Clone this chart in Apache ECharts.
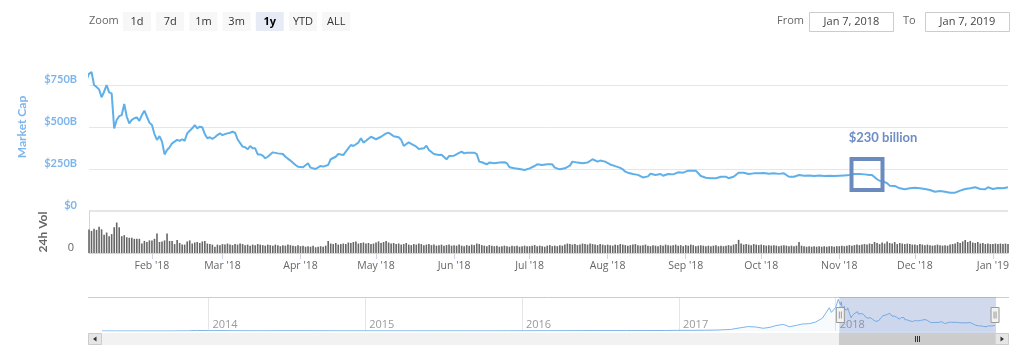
<!DOCTYPE html>
<html>
<head>
<meta charset="utf-8">
<title>Total Market Capitalization</title>
<script src="https://cdn.jsdelivr.net/npm/echarts@6/dist/echarts.min.js"></script>
<style>
  html, body { margin: 0; padding: 0; background: #fff; }
  #chart { width: 1024px; height: 354px; }
</style>
</head>
<body>
<div id="chart"></div>
<script>
// market cap before the selected year (only seen in the navigator), $B
const historyDates = ['2013-04-28', '2013-06-01', '2013-08-01', '2013-10-01', '2013-11-15', '2013-12-04',
  '2014-01-01', '2014-02-01', '2014-03-01', '2014-05-01', '2014-07-01', '2014-09-01', '2014-11-01',
  '2015-01-01', '2015-04-01', '2015-07-01', '2015-10-01', '2015-12-01', '2016-03-01', '2016-06-15',
  '2016-09-01', '2016-12-01', '2017-01-01', '2017-02-01', '2017-03-01', '2017-04-01', '2017-05-01',
  '2017-05-25', '2017-06-12', '2017-07-01', '2017-07-16', '2017-08-01', '2017-08-15', '2017-09-01',
  '2017-09-15', '2017-10-01', '2017-10-15', '2017-11-01', '2017-11-15', '2017-12-01', '2017-12-17',
  '2017-12-22', '2018-01-01']
const historyValues = [1.6, 1.4, 1.3, 1.6, 5, 15, 10, 11, 7, 6, 8, 7, 5, 4.5, 4, 4.5, 4, 6, 7, 11,
  11, 13, 18, 17, 20, 25, 40, 85, 115, 100, 70, 95, 140, 170, 110, 145, 180, 190, 230, 330, 600,
  480, 612]

// selected year: day offset from Jan 7 2018 and market cap, $B
const capStart = [2018, 0, 7]
const capDays = [0, 1, 2, 3, 4, 5, 6, 7, 8, 9, 10, 11, 12, 13, 14, 15, 16, 17, 18, 19, 20, 21, 22, 23, 24,
  25, 26, 27, 28, 29, 30, 31, 32, 33, 35, 36, 37, 38, 39, 40, 41, 42, 43, 44, 45, 46, 47, 48, 49, 50,
  51, 52, 53, 54, 55, 56, 57, 58, 59, 61, 62, 63, 64, 65, 66, 67, 68, 69, 70, 71, 73, 75, 77, 78, 80,
  82, 83, 85, 87, 88, 90, 92, 93, 95, 96, 98, 99, 101, 102, 104, 105, 107, 108, 109, 110, 112, 114,
  116, 118, 119, 120, 121, 123, 124, 125, 127, 128, 130, 131, 133, 134, 135, 137, 139, 140, 142, 143,
  145, 147, 148, 149, 150, 153, 154, 155, 156, 158, 159, 161, 163, 165, 166, 167, 169, 171, 173, 175,
  177, 178, 180, 182, 184, 185, 187, 189, 191, 192, 194, 196, 198, 200, 202, 203, 205, 207, 209, 211,
  212, 213, 214, 216, 218, 220, 222, 223, 225, 227, 228, 230, 232, 234, 236, 238, 241, 243, 245, 247,
  249, 251, 253, 254, 256, 258, 260, 262, 264, 266, 268, 270, 272, 274, 276, 278, 280, 282, 284, 286,
  288, 290, 292, 294, 296, 298, 300, 302, 304, 306, 308, 310, 311, 313, 314, 315, 317, 318, 320, 322,
  324, 326, 328, 330, 332, 334, 336, 338, 340, 342, 344, 346, 348, 350, 352, 354, 356, 357, 359, 361,
  363, 365]
const capValues = [816, 827, 750, 738, 724, 677, 710, 750, 706, 700, 492, 542, 565, 571, 637, 561, 522,
  542, 552, 557, 536, 571, 597, 561, 526, 512, 458, 423, 446, 413, 337, 363, 379, 403, 423, 417, 427,
  418, 462, 478, 492, 512, 492, 502, 498, 458, 433, 439, 429, 439, 452, 462, 452, 458, 462, 466, 472,
  466, 427, 383, 379, 367, 387, 373, 373, 337, 337, 330, 314, 323, 349, 343, 339, 323, 300, 274, 264,
  260, 284, 258, 250, 268, 264, 274, 308, 323, 339, 333, 353, 393, 387, 407, 433, 407, 418, 442, 427,
  442, 462, 466, 456, 445, 439, 423, 387, 409, 400, 383, 369, 373, 389, 363, 339, 333, 335, 308, 327,
  329, 346, 353, 343, 347, 347, 339, 294, 290, 278, 288, 284, 288, 290, 284, 260, 254, 250, 244, 254,
  268, 278, 274, 278, 278, 258, 248, 254, 270, 294, 288, 284, 288, 308, 294, 300, 294, 277, 267, 257,
  248, 234, 228, 220, 215, 200, 206, 222, 214, 220, 210, 220, 218, 230, 228, 240, 240, 208, 198, 195,
  195, 204, 204, 195, 204, 228, 228, 220, 224, 224, 226, 222, 225, 221, 224, 204, 204, 214, 210, 212,
  209, 211, 208, 210, 208, 210, 212, 214, 220, 220, 218, 214, 214, 189, 180, 179, 165, 151, 149, 135,
  129, 135, 139, 135, 131, 125, 115, 119, 115, 109, 109, 121, 131, 135, 141, 131, 129, 141, 131, 137,
  135, 141]

// 24h volume, one bar a day from Jan 7 2018, $B
const volumeValues = [
  45, 42, 46, 44, 50, 45, 35, 39, 32, 36, 49, 58, 49, 32, 34, 30, 29, 29, 27, 27, 27, 18, 23, 21, 24,
  24, 27, 37, 21, 22, 24, 37, 23, 23, 17, 25, 19, 16, 16, 22, 24, 18, 20, 21, 19, 22, 23, 18, 17, 16,
  12, 16,
  15, 17, 16, 18, 16, 15, 17, 16, 18, 17, 15, 16, 14, 16, 15, 17, 16, 15, 14, 16, 15, 14, 16, 15, 13,
  15, 14, 16, 15, 14, 13, 15,
  13, 14, 12, 13, 12, 14, 11, 12, 13, 12, 14, 23, 18, 17, 19, 16, 17, 18, 17, 20, 19, 21, 22, 18, 19,
  20, 18, 19, 17, 18,
  20, 22, 19, 21, 23, 20, 18, 19, 17, 18, 16, 17, 19, 16, 15, 17, 16, 18, 17, 15, 16, 17, 15, 16, 14,
  15, 16, 14, 15, 16, 14,
  15, 14, 16, 14, 13, 15, 14, 16, 15, 18, 17, 15, 14, 13, 15, 14, 13, 14, 12, 13, 14, 13, 12, 14, 13,
  14, 12, 13, 14, 13,
  13, 14, 15, 13, 14, 13, 12, 14, 15, 13, 14, 13, 15, 14, 16, 18, 17, 16, 17, 15, 16, 18, 17, 16, 18,
  17, 16, 15, 17, 16, 15,
  16, 15, 14, 16, 15, 17, 16, 15, 14, 15, 16, 17, 15, 14, 15, 16, 14, 13, 15, 14, 13, 15, 14, 16, 15,
  14, 15, 16, 14, 15, 13,
  15, 14, 16, 15, 13, 14, 15, 14, 13, 14, 13, 14, 15, 13, 14, 13, 14, 15, 14, 16, 17, 25, 18, 16, 17,
  16, 15, 17, 16, 15,
  16, 15, 14, 15, 14, 15, 14, 13, 14, 15, 14, 13, 14, 13, 14, 21, 14, 13, 12, 13, 12, 13, 12, 13, 12,
  13, 12, 13, 13, 12, 13,
  13, 14, 13, 14, 15, 14, 15, 16, 15, 16, 17, 16, 18, 17, 21, 19, 17, 20, 18, 22, 19, 18, 21, 17, 19,
  18, 17, 18, 17, 16,
  16, 15, 17, 16, 15, 16, 15, 14, 15, 16, 15, 14, 15, 14, 16, 17, 18, 21, 19, 22, 25, 21, 23, 20, 19,
  21, 18, 19, 17, 18, 17,
  17, 18, 17, 18, 17, 18, 17]

const capTicks = [0, 250, 500, 750]
const capLabels = ['$0', '$250B', '$500B', '$750B']
const monthTicks = ['2018-02-01', '2018-03-01', '2018-04-01', '2018-05-01', '2018-06-01', '2018-07-01',
  '2018-08-01', '2018-09-01', '2018-10-01', '2018-11-01', '2018-12-01', '2019-01-01']
const monthLabels = ["Feb '18", "Mar '18", "Apr '18", "May '18", "Jun '18", "Jul '18", "Aug '18",
  "Sep '18", "Oct '18", "Nov '18", "Dec '18", "Jan '19"]
const yearTicks = ['2014-01-01', '2015-01-01', '2016-01-01', '2017-01-01', '2018-01-01']
const yearLabels = ['2014', '2015', '2016', '2017', '2018']
const zoomButtons = ['1d', '7d', '1m', '3m', '1y', 'YTD', 'ALL']
const zoomSelected = '1y'
const rangeDates = ['2018-01-07', '2019-01-07']
const rangeLabels = ['Jan 7, 2018', 'Jan 7, 2019']
const note = { day: 309, value: 218, text: '$230 billion' }

const ts = s => { const p = s.split('-').map(Number); return new Date(p[0], p[1] - 1, p[2]).getTime() }
const capDate = d => new Date(capStart[0], capStart[1], capStart[2] + d).getTime()

const capSeries = historyDates.map((s, i) => [ts(s), historyValues[i]])
  .concat(capDays.map((d, i) => [capDate(d), capValues[i]]))
const volSeries = volumeValues.map((v, i) => [capDate(i), v])
const monthStamps = monthTicks.map(ts)
const yearStamps = yearTicks.map(ts)

const textFont = '"Open Sans", sans-serif'
const boldFont = 'Lato, sans-serif'

const chart = echarts.init(document.getElementById('chart'))

const graphic = [
  { type: 'text', x: 89, y: 21, style: { text: 'Zoom', fill: '#666', font: '11px "Open Sans"', verticalAlign: 'middle' } },
  { type: 'text', x: 777, y: 21, style: { text: 'From', fill: '#666', font: '11px "Open Sans"', verticalAlign: 'middle' } },
  { type: 'text', x: 903, y: 21, style: { text: 'To', fill: '#666', font: '11px "Open Sans"', verticalAlign: 'middle' } },
  { type: 'line', shape: { x1: 88, y1: 297.5, x2: 1009, y2: 297.5 }, style: { stroke: '#cccccc', lineWidth: 1 } },
  { type: 'rect', shape: { x: 88, y: 333, width: 921, height: 12 }, style: { fill: '#f2f2f2' } },
  { type: 'rect', shape: { x: 88.5, y: 333.5, width: 13, height: 11 }, style: { fill: '#e6e6e6', stroke: '#cccccc' } },
  { type: 'polygon', shape: { points: [[93, 339], [96.5, 336.5], [96.5, 341.5]] }, style: { fill: '#333' } },
  { type: 'rect', shape: { x: 995.5, y: 333.5, width: 13, height: 11 }, style: { fill: '#e6e6e6', stroke: '#cccccc' } },
  { type: 'polygon', shape: { points: [[1004, 339], [1000.5, 336.5], [1000.5, 341.5]] }, style: { fill: '#333' } }
]
zoomButtons.forEach((b, i) => {
  const on = b === zoomSelected
  graphic.push({
    type: 'group', x: 123 + i * 33.2, y: 12,
    children: [
      { type: 'rect', shape: { width: 28, height: 19 }, style: { fill: on ? '#e6ebf5' : '#f7f7f7' } },
      { type: 'text', x: 14, y: 9.5, style: { text: b, align: 'center', verticalAlign: 'middle', fill: on ? '#000' : '#333', font: (on ? 'bold ' : '') + '11px "Open Sans"' } }
    ]
  })
})
rangeLabels.forEach((t, i) => {
  const x = i === 0 ? 809.5 : 925.5
  graphic.push({
    type: 'group', x: x, y: 12.5,
    children: [
      { type: 'rect', shape: { width: 84, height: 19 }, style: { fill: '#fff', stroke: '#cccccc' } },
      { type: 'text', x: 42, y: 9.5, style: { text: t, align: 'center', verticalAlign: 'middle', fill: '#444', font: '11px "Open Sans"' } }
    ]
  })
})

const zoomCommon = {
  type: 'slider', xAxisIndex: 0, filterMode: 'none',
  startValue: ts(rangeDates[0]), endValue: ts(rangeDates[1]),
  left: 102, right: 29, borderRadius: 0, borderColor: 'transparent',
  showDataShadow: false, showDetail: false, brushSelect: false, moveHandleSize: 0
}

chart.setOption({
  animation: false,
  graphic: graphic,
  grid: [
    { left: 89, right: 16, top: 43, height: 168, outerBoundsMode: 'none' },
    { left: 89, right: 16, top: 211, height: 42, outerBoundsMode: 'none' },
    { left: 102, right: 29, top: 298, height: 33, outerBoundsMode: 'none' }
  ],
  xAxis: [
    { type: 'value', gridIndex: 0, scale: true, min: 'dataMin', max: 'dataMax', show: false },
    {
      type: 'value', gridIndex: 1, scale: true, min: ts(rangeDates[0]), max: ts(rangeDates[1]),
      axisLine: { lineStyle: { color: '#ccd6eb' } },
      axisTick: { customValues: monthStamps, length: 6, lineStyle: { color: '#ccd6eb' } },
      axisLabel: {
        customValues: monthStamps, formatter: v => monthLabels[monthStamps.indexOf(v)] || '',
        color: '#666', fontSize: 10.5, fontFamily: textFont, margin: 8
      },
      splitLine: { show: false }
    },
    {
      type: 'value', gridIndex: 2, scale: true, min: 'dataMin', max: 'dataMax',
      axisLine: { show: false },
      axisTick: { show: false, customValues: yearStamps },
      axisLabel: {
        inside: true, customValues: yearStamps, formatter: v => yearLabels[yearStamps.indexOf(v)] || '',
        align: 'left', padding: [0, 0, 0, 4], margin: 1, color: '#999', fontSize: 11, fontFamily: textFont
      },
      splitLine: { show: true, lineStyle: { color: '#e6e6e6' } }
    }
  ],
  yAxis: [
    {
      type: 'value', gridIndex: 0, min: 0, max: 1000, interval: 250,
      axisLine: { show: false }, axisTick: { show: false },
      axisLabel: {
        formatter: v => capLabels[capTicks.indexOf(v)] || '', verticalAlign: 'bottom', margin: 12,
        color: '#7cb5ec', fontFamily: boldFont, fontWeight: 'bold', fontSize: 11
      },
      splitLine: { lineStyle: { color: ['#e6e6e6', '#e6e6e6', '#e6e6e6', '#e6e6e6', 'rgba(0,0,0,0)'] } },
      name: 'Market Cap', nameLocation: 'middle', nameGap: 61,
      nameTextStyle: { color: '#7cb5ec', fontFamily: boldFont, fontWeight: 'bold', fontSize: 12 }
    },
    {
      type: 'value', gridIndex: 1, min: 0, max: 80, interval: 80,
      axisLine: { show: true, lineStyle: { color: '#ccd6eb' } }, axisTick: { show: false },
      axisLabel: {
        formatter: v => v === 0 ? '0' : '', verticalAlign: 'bottom', margin: 15,
        color: '#666', fontFamily: textFont, fontSize: 11
      },
      splitLine: { lineStyle: { color: ['rgba(0,0,0,0)', '#e6e6e6'], width: 2 } },
      name: '24h Vol', nameLocation: 'middle', nameGap: 40,
      nameTextStyle: { color: '#666', fontFamily: boldFont, fontWeight: 'bold', fontSize: 12 }
    },
    { type: 'value', gridIndex: 2, min: 0, max: 850, show: false }
  ],
  dataZoom: [
    Object.assign({}, zoomCommon, {
      top: 297, height: 36, backgroundColor: 'rgba(0,0,0,0)',
      fillerColor: 'rgba(102,133,194,0.3)',
      handleIcon: 'path://M0,0H8V15H0Z M3,4V11 M5,4V11', handleSize: 15,
      handleStyle: { color: '#f2f2f2', borderColor: '#999', borderWidth: 1 }
    }),
    Object.assign({}, zoomCommon, {
      top: 333, height: 12, backgroundColor: '#f2f2f2', fillerColor: '#cccccc',
      handleSize: 0, handleStyle: { opacity: 0 }
    })
  ],
  series: [
    {
      type: 'line', xAxisIndex: 0, yAxisIndex: 0, data: capSeries,
      symbol: 'none', clip: true, lineStyle: { color: '#5fb0e9', width: 2 },
      markPoint: {
        silent: true, symbol: 'rect', symbolSize: 31,
        itemStyle: { color: 'rgba(0,0,0,0)', borderColor: '#6b8bbf', borderWidth: 4 },
        label: {
          show: true, position: 'top', distance: 13, offset: [16, 0], formatter: note.text,
          color: '#6d8dc4', fontFamily: boldFont, fontWeight: 'bold', fontSize: 13
        },
        data: [{ coord: [capDate(note.day), note.value] }]
      }
    },
    {
      type: 'bar', xAxisIndex: 1, yAxisIndex: 1, data: volSeries,
      barWidth: 1.6, itemStyle: { color: '#666' }
    },
    {
      type: 'line', xAxisIndex: 2, yAxisIndex: 2, data: capSeries, symbol: 'none',
      lineStyle: { color: '#7cb5ec', width: 1 }, areaStyle: { color: 'rgba(124,181,236,0.08)' }
    }
  ]
})

// grip marks in the middle of the scrollbar thumb
const thumbEnds = rangeDates.map(s => chart.convertToPixel({ xAxisIndex: 2 }, ts(s)))
const mid = Math.round((thumbEnds[0] + thumbEnds[1]) / 2) + 0.5
chart.setOption({
  graphic: graphic.concat([-2, 0, 2].map(dx => ({
    type: 'line', z: 10, shape: { x1: mid + dx, y1: 336, x2: mid + dx, y2: 342 },
    style: { stroke: '#333', lineWidth: 1 }
  })))
})
</script>
</body>
</html>
